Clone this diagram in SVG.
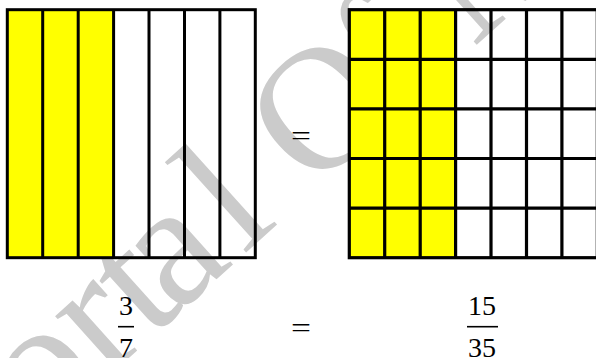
<svg xmlns="http://www.w3.org/2000/svg" width="596" height="358" viewBox="0 0 596 358">
<style>
.wm{font-family:"Liberation Serif","Times New Roman",serif;font-size:175px;fill:#cbcbcb}
.yel{fill:#ffff00;stroke:none}
.ln{stroke:#000;stroke-width:3;fill:none}
.ln2{stroke:#000;stroke-width:3.2;fill:none}
.num{font-family:"Liberation Serif","Times New Roman",serif;font-size:28px;fill:#000;text-anchor:middle}
.bar{stroke:#000;stroke-width:1.6}
</style>
<rect width="596" height="358" fill="#fff"/>
<g id="watermark">
<text class="wm" transform="translate(-31,502) rotate(-42)">Port<tspan dx="-12">a</tspan><tspan dx="12">l</tspan> O<tspan dx="-12">f</tspan> Mathematics</text>
</g>
<g id="left-square">
<rect class="yel" x="7.3" y="9.7" width="106.3" height="248"/>
<path class="ln" d="M42.7,9.7V257.7M78.2,9.7V257.7M113.6,9.7V257.7M149,9.7V257.7M184.5,9.7V257.7M219.9,9.7V257.7"/>
<rect class="ln" x="7.3" y="9.7" width="248" height="248"/>
</g>
<g id="right-grid">
<rect class="yel" x="349.3" y="9.7" width="106.3" height="248"/>
<path class="ln2" d="M384.7,9.7V257.7M420.2,9.7V257.7M455.6,9.7V257.7M491,9.7V257.7M526.5,9.7V257.7M561.9,9.7V257.7M349.3,59.3H597.3M349.3,108.9H597.3M349.3,158.5H597.3M349.3,208.1H597.3"/>
<rect class="ln2" x="349.3" y="9.7" width="248" height="248" stroke-width="3.5"/>
</g>
<g id="labels">
<text class="num" x="301" y="145" textLength="20" lengthAdjust="spacingAndGlyphs">=</text>
<text class="num" x="126" y="315">3</text>
<line class="bar" x1="118" y1="326.7" x2="134" y2="326.7"/>
<text class="num" x="126" y="356.5">7</text>
<text class="num" x="301" y="337" textLength="20" lengthAdjust="spacingAndGlyphs">=</text>
<text class="num" x="482" y="315">15</text>
<line class="bar" x1="467" y1="326.7" x2="498" y2="326.7"/>
<text class="num" x="482" y="356.5">35</text>
</g>
</svg>
